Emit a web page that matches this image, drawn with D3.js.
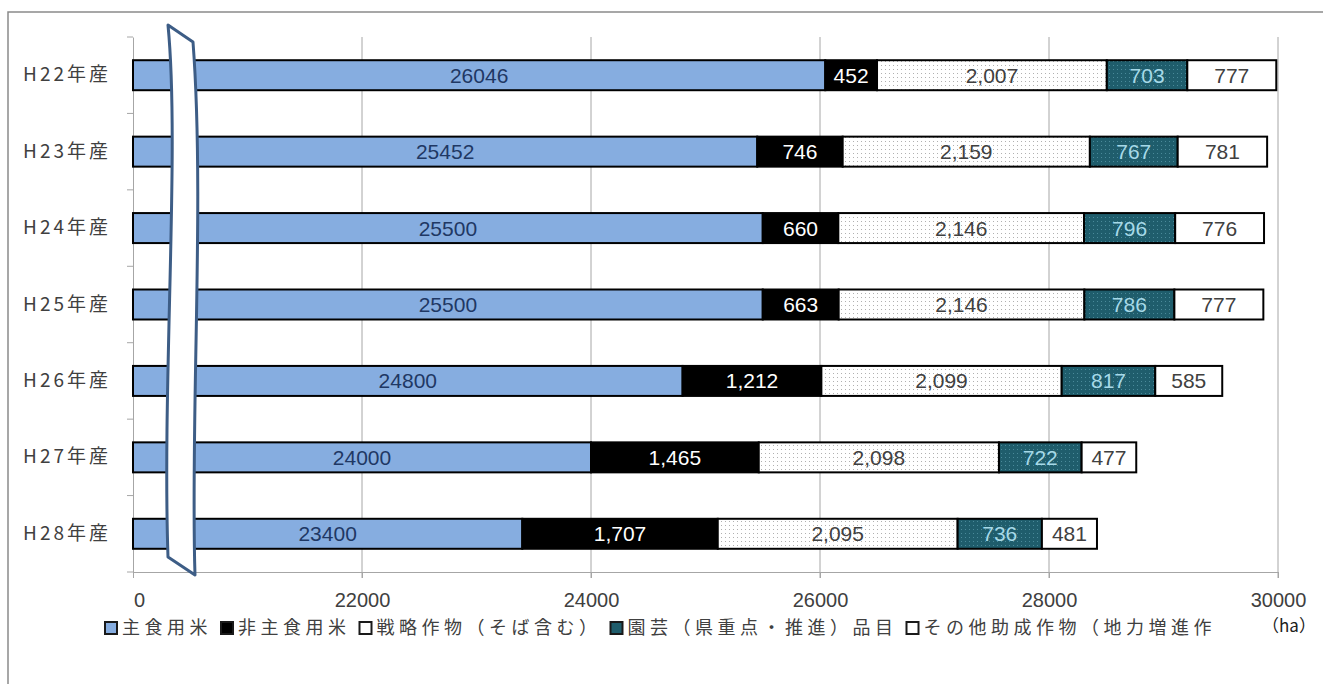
<!DOCTYPE html>
<html><head><meta charset="utf-8">
<script src="https://cdn.jsdelivr.net/npm/d3@7"></script>
<style>
html,body{margin:0;padding:0;background:#fff;}
svg{display:block;}
</style></head>
<body>
<svg id="c" width="1323" height="684"></svg>
<script>
// ---- data ----
const categories = ["H22年産","H23年産","H24年産","H25年産","H26年産","H27年産","H28年産"];
const seriesNames = ["主食用米","非主食用米","戦略作物（そば含む）","園芸（県重点・推進）品目","その他助成作物（地力増進作"];
const mainRice   = [26046,25452,25500,25500,24800,24000,23400];
const nonMain    = [452,746,660,663,1212,1465,1707];
const strategic  = [2007,2159,2146,2146,2099,2098,2095];
const horticult  = [703,767,796,786,817,722,736];
const otherCrops = [777,781,776,777,585,477,481];
const tickValues = [20000,22000,24000,26000,28000,30000];
const tickLabels = ["0","22000","24000","26000","28000","30000"];
const unitLabel = "（ha）";

const series = [mainRice, nonMain, strategic, horticult, otherCrops];

const svg = d3.select("#c");
const defs = svg.append("defs");
const p1 = defs.append("pattern").attr("id","dotW").attr("width",4).attr("height",4).attr("patternUnits","userSpaceOnUse");
p1.append("rect").attr("width",4).attr("height",4).attr("fill","#ffffff");
p1.append("rect").attr("x",1).attr("y",1).attr("width",1).attr("height",1).attr("fill","#b0b0b0");
const p2 = defs.append("pattern").attr("id","dotT").attr("width",4).attr("height",4).attr("patternUnits","userSpaceOnUse");
p2.append("rect").attr("width",4).attr("height",4).attr("fill","#1f5d6c");
p2.append("rect").attr("x",1).attr("y",1).attr("width",1).attr("height",1).attr("fill","#4a8a9a");

const fills = ["#86ade0","#000000","url(#dotW)","url(#dotT)","#ffffff"];
const labelColors = ["#1f3864","#ffffff","#404040","#a6d9e8","#404040"];
const legendFills = ["#86ade0","#000000","#ffffff","#1f5d6c","#ffffff"];

// frame
svg.append("path").attr("d","M8,684 L8,12 L1323,12").attr("fill","none").attr("stroke","#8a8a8a").attr("stroke-width",1.5);

const x = d3.scaleLinear().domain([20000,30000]).range([133,1278]);
const y = d3.scaleBand().domain(categories).range([37,572]).paddingInner(0.6075).paddingOuter(0.30375);

// gridlines
svg.append("g").selectAll("line").data(tickValues.slice(1)).join("line")
  .attr("x1",d=>x(d)).attr("x2",d=>x(d)).attr("y1",37).attr("y2",578)
  .attr("stroke","#a6a6a6").attr("stroke-width",1);

// x axis
const xAxis = d3.axisBottom(x).tickValues(tickValues).tickFormat((d,i)=>tickLabels[i]).tickSize(6).tickPadding(15);
const gx = svg.append("g").attr("transform","translate(0,572)").call(xAxis);
gx.select(".domain").attr("stroke","#a6a6a6");
gx.selectAll(".tick line").attr("stroke","#a6a6a6");
gx.selectAll(".tick text").attr("fill","#404040").attr("font-family","'Liberation Sans', Arial, sans-serif").attr("font-size",20);
gx.selectAll(".tick").filter((d,i)=>i===0).select("text").attr("dx",6);

// y axis
const yAxis = d3.axisLeft(y).tickSize(0).tickPadding(22);
const gy = svg.append("g").attr("transform","translate(133,0)").call(yAxis);
gy.select(".domain").attr("stroke","#a6a6a6");
gy.selectAll(".tick text").attr("fill","#404040").attr("font-family","'Noto Sans CJK JP', sans-serif").attr("font-size",19).attr("letter-spacing","3px");
// category boundary ticks
const step = y.step();
svg.append("g").selectAll("line").data(d3.range(categories.length+1)).join("line")
  .attr("x1",127).attr("x2",133).attr("y1",i=>37+i*step).attr("y2",i=>37+i*step)
  .attr("stroke","#a6a6a6");

// stacked bars
const rows = categories.map((c,i)=>{
  let acc = 20000; const segs=[];
  series.forEach((s,k)=>{ const v=s[i]; const start = k===0?20000:acc; const end = k===0? v : acc+v; segs.push({c,k,v,start,end}); acc=end; });
  return segs;
});
const fmt = d3.format(",");
const bars = svg.append("g");
rows.forEach(segs=>{
  bars.selectAll(null).data(segs).join("rect")
    .attr("x",d=>x(d.start)).attr("y",d=>y(d.c)).attr("width",d=>x(d.end)-x(d.start)).attr("height",y.bandwidth())
    .attr("fill",d=>fills[d.k]).attr("stroke","#000").attr("stroke-width",2);
  bars.selectAll(null).data(segs).join("text")
    .attr("x",d=>(x(d.start)+x(d.end))/2).attr("y",d=>y(d.c)+y.bandwidth()/2).attr("dy","0.36em")
    .attr("text-anchor","middle").attr("fill",d=>labelColors[d.k])
    .attr("font-family","'Liberation Sans', Arial, sans-serif").attr("font-size",21)
    .text(d=>d.k===0? String(d.v) : fmt(d.v));
});

// axis break shape
svg.append("path")
  .attr("d","M168,25 C180,150 162,380 168,557 L195,575 C190,420 205,200 193,42 Z")
  .attr("fill","#ffffff").attr("stroke","#3d5d86").attr("stroke-width",3).attr("stroke-linejoin","round");

// legend
const lg = svg.append("g").attr("transform","translate(105,628)");
let lx = 0;
seriesNames.forEach((n,k)=>{
  lg.append("rect").attr("x",lx).attr("y",-6).attr("width",12).attr("height",12)
    .attr("fill",legendFills[k]).attr("stroke","#1a1a1a").attr("stroke-width",2);
  const t = lg.append("text").attr("x",lx+17).attr("y",0).attr("dy","0.36em")
    .attr("font-family","'Noto Sans CJK JP', sans-serif").attr("font-size",18).attr("letter-spacing","4.5px")
    .attr("fill","#404040").text(n);
  lx += 17 + t.node().getComputedTextLength() + 9;
});

svg.append("text").attr("x",1289).attr("y",626).attr("dy","0.36em").attr("text-anchor","middle")
  .attr("font-family","'Noto Sans CJK JP', sans-serif").attr("font-size",17).attr("fill","#202020").text(unitLabel);
</script>
</body></html>
